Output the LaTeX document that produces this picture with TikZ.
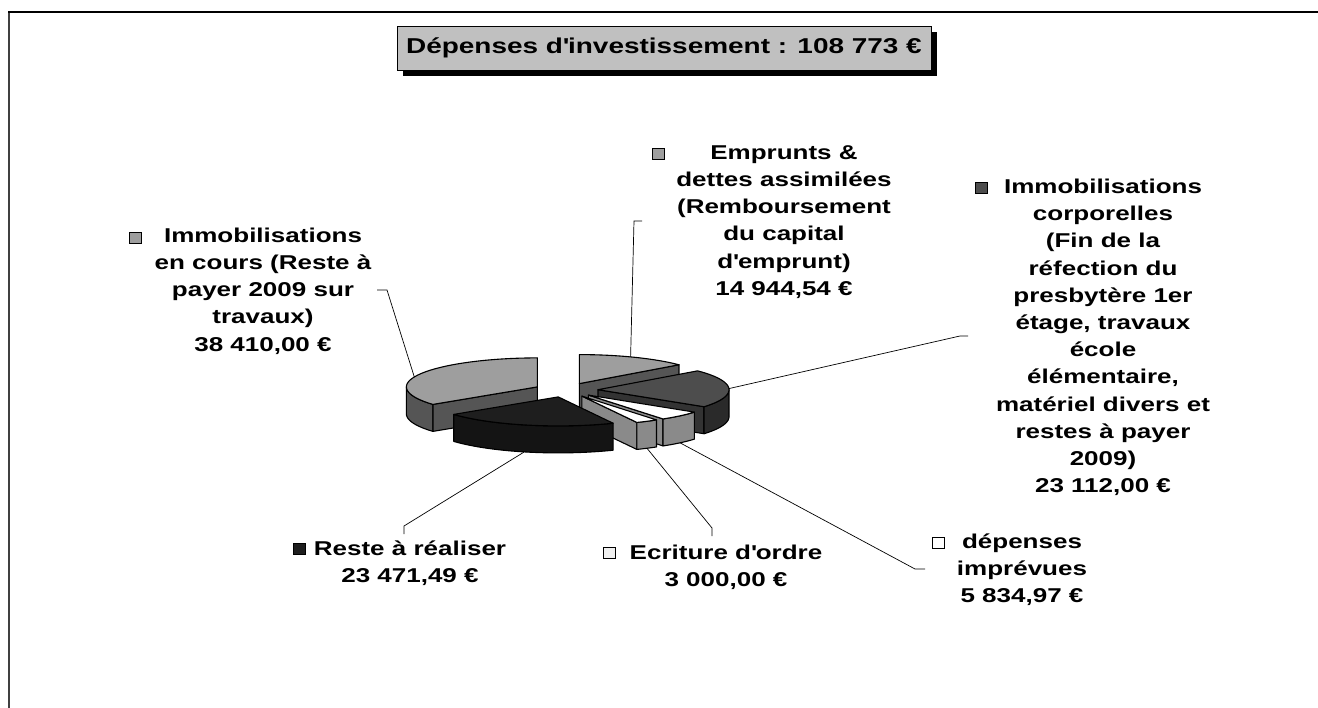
\documentclass[tikz,border=0pt]{standalone}
\usepackage{fontspec}
\setmainfont{Liberation Sans}[FakeStretch=1.3]
\usetikzlibrary{shadows}
\definecolor{titlegray}{HTML}{C0C0C0}
\definecolor{lgtop}{HTML}{9E9E9E}
\definecolor{lgside}{HTML}{555555}
\definecolor{dgtop}{HTML}{4D4D4D}
\definecolor{dgside}{HTML}{333333}
\definecolor{dgwall}{HTML}{2A2A2A}
\definecolor{bktop}{HTML}{1E1E1E}
\definecolor{bkwall}{HTML}{141414}
\definecolor{whside}{HTML}{8A8A8A}
\definecolor{framegray}{HTML}{404040}
\newcommand{\pieA}{131}
\newcommand{\pieB}{29}
\newcommand{\pieH}{27}
\newcommand{\apos}{\textquotesingle}
% top face: apex x, apex y, angle1, angle2, colour
\newcommand{\pietop}[5]{\filldraw[pieline,fill=#5] (#1,#2) -- plot[domain=#3:#4,samples=60] ({#1+\pieA*cos(\x)},{#2-\pieB*sin(\x)}) -- cycle;}
% outer wall
\newcommand{\piewall}[5]{\filldraw[pieline,fill=#5] plot[domain=#3:#4,samples=40] ({#1+\pieA*cos(\x)},{#2-\pieB*sin(\x)}) -- plot[domain=#4:#3,samples=40] ({#1+\pieA*cos(\x)},{#2+\pieH-\pieB*sin(\x)}) -- cycle;}
% radial cut face
\newcommand{\pieside}[4]{\filldraw[pieline,fill=#4] (#1,#2) -- ({#1+\pieA*cos(#3)},{#2-\pieB*sin(#3)}) -- ++(0,\pieH) -- (#1,{#2+\pieH}) -- cycle;}
\begin{document}
\begin{tikzpicture}[x=1pt,y=-1pt,
  pieline/.style={draw=black,line width=1.1pt,line join=round},
  lbl/.style={align=center,inner sep=0pt,font=\fontsize{20}{27.2}\selectfont\bfseries},
  keybox/.style={draw=black,line width=0.8pt,minimum width=12pt,minimum height=11pt,inner sep=0pt},
  leader/.style={draw=black,line width=0.7pt},
  titlebox/.style={draw=black,line width=0.9pt,fill=titlegray,minimum width=534pt,minimum height=44pt,inner sep=0pt,
    font=\fontsize{21.5}{26}\selectfont\bfseries,
    general shadow={fill=black,shadow xshift=6pt,shadow yshift=-6pt}}]
\useasboundingbox (0,0) rectangle (1318,708);
\clip (0,0) rectangle (1318,708);
\fill[white] (0,0) rectangle (1318,708);
% frame
\draw[line width=2pt,framegray] (9,720) -- (9,12);
\draw[line width=2pt,black] (8,12) -- (1330,12);
% title
\node[titlebox] (title) at (664,48) {Dépenses d\apos investissement : 108 773 €};

% ---- pie ----
% Emprunts (40.53 - 90)
\pieside{579.4}{383.6}{40.53}{lgside}
\pietop{579.4}{383.6}{40.53}{90}{lgtop}
% Immobilisations en cours (90 - 217.12)
\piewall{537.4}{386.9}{180}{217.12}{lgside}
\pieside{537.4}{386.9}{217.12}{lgside}
\pietop{537.4}{386.9}{90}{217.12}{lgtop}
% Immobilisations corporelles (324.04 - 400.53)
\pieside{598.0}{389.7}{324.04}{dgside}
\piewall{598.0}{389.7}{324.04}{360}{dgwall}
\pietop{598.0}{389.7}{324.04}{400.53}{dgtop}
% depenses imprevues (304.73 - 324.04)
\pieside{588.4}{395.1}{304.73}{whside}
\piewall{588.4}{395.1}{304.73}{324.04}{whside}
\pietop{588.4}{395.1}{304.73}{324.04}{white}
% Ecriture d'ordre (294.80 - 304.73)
\pieside{581.9}{396.1}{294.80}{whside}
\piewall{581.9}{396.1}{294.80}{304.73}{whside}
\pietop{581.9}{396.1}{294.80}{304.73}{white}
% Reste a realiser (217.12 - 294.80)
\piewall{558.2}{396.9}{217.12}{294.80}{bkwall}
\pietop{558.2}{396.9}{217.12}{294.80}{bktop}

% contact points on the pie
\coordinate (pEncours) at (414.3,376.9);
\coordinate (pEmprunts) at (630.6,356.9);
\coordinate (pCorp) at (728.9,388.6);
\coordinate (pReste) at (524.3,451.9);
\coordinate (pEcriture) at (647.0,448.3);
\coordinate (pDepenses) at (680.0,442.8);

% ---- labels ----
\node[lbl] (lEncours) at (263,291) {Immobilisations\\en cours (Reste à\\payer 2009 sur\\travaux)\\38 410,00 €};
\node[lbl] (lEmprunts) at (784,222) {Emprunts \&\\dettes assimilées\\(Remboursement\\du capital\\d\apos emprunt)\\14 944,54 €};
\node[lbl] (lCorp) at (1103,337.5) {Immobilisations\\corporelles\\(Fin de la\\réfection du\\presbytère 1er\\étage, travaux\\école\\élémentaire,\\matériel divers et\\restes à payer\\2009)\\23 112,00 €};
\node[lbl] (lReste) at (410,563) {Reste à réaliser\\23 471,49 €};
\node[lbl] (lEcriture) at (726,567) {Ecriture d\apos ordre\\3 000,00 €};
\node[lbl] (lDepenses) at (1022,570) {dépenses\\imprévues\\5 834,97 €};

% legend keys
\node[keybox,fill=lgtop] (kEncours) at (135,238) {};
\node[keybox,fill=lgtop] (kEmprunts) at (658,154) {};
\node[keybox,fill=dgtop] (kCorp) at (981,188) {};
\node[keybox,fill=bktop] (kReste) at (299,549) {};
\node[keybox,fill=black!6] (kEcriture) at (609,553) {};
\node[keybox,fill=white] (kDepenses) at (938,543) {};

% leader ends
\coordinate (eEncours) at (377,290);
\coordinate (eEmprunts) at (642,221);
\coordinate (eCorp) at (968,336);
\coordinate (eReste) at (404,534);
\coordinate (eEcriture) at (712,536);
\coordinate (eDepenses) at (925,569);

\draw[leader] (pEncours) -- (387,290) -- (eEncours);
\draw[leader] (pEmprunts) -- (634,221) -- (eEmprunts);
\draw[leader] (pCorp) -- (960,336) -- (eCorp);
\draw[leader] (pReste) -- (404,526) -- (eReste);
\draw[leader] (pEcriture) -- (712,528) -- (eEcriture);
\draw[leader] (pDepenses) -- (915,569) -- (eDepenses);
\end{tikzpicture}
\end{document}
